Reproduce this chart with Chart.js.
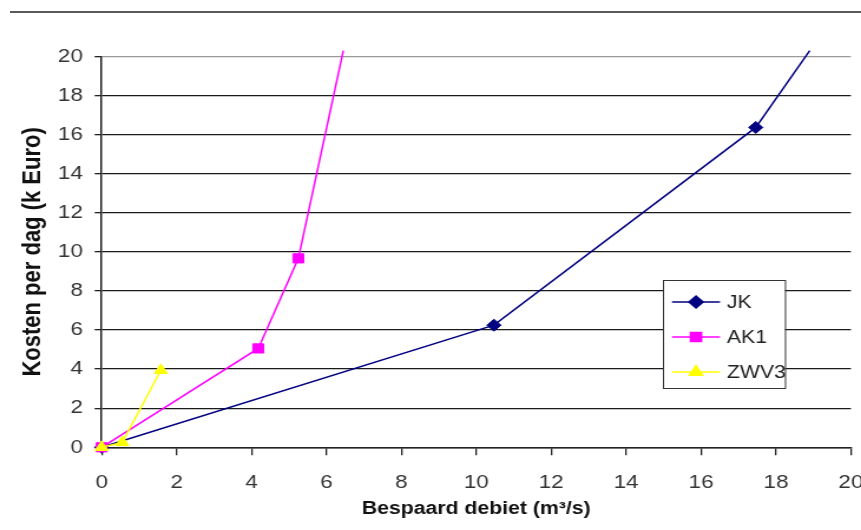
<!DOCTYPE html>
<html>
<head>
<meta charset="utf-8">
<title>Kosten per dag</title>
<script src="https://cdn.jsdelivr.net/npm/chart.js@4.4.0/dist/chart.umd.min.js"></script>
<style>
  html, body { margin: 0; padding: 0; background: #fff; }
  body { width: 861px; height: 530px; overflow: hidden; position: relative; }
  /* page rule above the figure */
  #rule { position: absolute; left: 10px; right: 0; top: 11px; height: 2px; background: #5a5a5a; }
  /* the original figure is stretched horizontally */
  #wrap { position: absolute; left: 0; top: 0; width: 748px; height: 530px; transform: scaleX(1.1795); transform-origin: 0 0; }
</style>
</head>
<body>
<div id="rule"></div>
<div id="wrap"><canvas id="kostenChart" width="748" height="530"></canvas></div>
<script>
// Values (x = bespaard debiet, y = kosten per dag)
const seriesNames = ['JK', 'AK1', 'ZWV3'];
const jkX = [0, 10.47, 17.46, 18.9];
const jkY = [0, 6.25, 16.37, 20.3];
const ak1X = [0, 4.18, 5.25, 6.45];
const ak1Y = [0, 5.06, 9.67, 20.3];
const zwv3X = [0, 0.55, 1.58];
const zwv3Y = [0, 0.25, 3.94];

// tick labels
const xTicks = [0, 2, 4, 6, 8, 10, 12, 14, 16, 18, 20];
const yTicks = [0, 2, 4, 6, 8, 10, 12, 14, 16, 18, 20];

const SX = 1.1795; // horizontal stretch of the wrapper
const fontFamily = '"Liberation Sans", Arial, Helvetica, sans-serif';

function toPoints(xs, ys) {
  return xs.map((x, i) => ({ x: x, y: ys[i] }));
}

// Legend in a box inside the plot area, like the original
const boxLegend = {
  id: 'boxLegend',
  afterDraw(chart) {
    const ctx = chart.ctx;
    const left = 663 / SX, right = 785 / SX, top = 280, bottom = 388;
    ctx.save();
    ctx.fillStyle = '#ffffff';
    ctx.fillRect(left, top, right - left, bottom - top);
    ctx.strokeStyle = '#333333';
    ctx.lineWidth = 1;
    ctx.strokeRect(Math.round(left) + 0.5, top + 0.5, right - left, bottom - top);

    chart.data.datasets.forEach((ds, i) => {
      const y = 302 + i * 35;
      ctx.strokeStyle = ds.borderColor;
      ctx.lineWidth = 1.5;
      ctx.beginPath();
      ctx.moveTo(672 / SX, y);
      ctx.lineTo(720 / SX, y);
      ctx.stroke();
      ctx.fillStyle = ds.backgroundColor;
      ctx.strokeStyle = ds.borderColor;
      Chart.helpers.drawPoint(ctx, {
        pointStyle: ds.pointStyle,
        rotation: 0,
        radius: ds.legendRadius,
        borderWidth: 1
      }, 696 / SX, y);
      ctx.fillStyle = '#222222';
      ctx.font = '18px ' + fontFamily;
      ctx.textAlign = 'left';
      ctx.textBaseline = 'middle';
      ctx.fillText(ds.label, 727 / SX, y + 1);
    });
    ctx.restore();
  }
};

const config = {
  type: 'scatter',
  data: {
    datasets: [{
      label: seriesNames[0],
      data: toPoints(jkX, jkY),
      borderColor: '#000080',
      backgroundColor: '#000080',
      pointStyle: 'rectRot',
      pointRadius: [6, 6, 6, 0],
      legendRadius: 6,
      order: 2
    }, {
      label: seriesNames[1],
      data: toPoints(ak1X, ak1Y),
      borderColor: '#ff00ff',
      backgroundColor: '#ff00ff',
      pointStyle: 'rect',
      pointRadius: [6.5, 6.5, 6.5, 0],
      legendRadius: 6.5,
      order: 1
    }, {
      label: seriesNames[2],
      data: toPoints(zwv3X, zwv3Y),
      borderColor: '#ffff00',
      backgroundColor: '#ffff00',
      pointStyle: 'triangle',
      pointRadius: 6.5,
      legendRadius: 6.5,
      order: 0
    }]
  },
  options: {
    responsive: false,
    animation: false,
    devicePixelRatio: 1,
    showLine: true,
    clip: 12,
    layout: { padding: { top: 56.5, right: 0, bottom: 0, left: 0 } },
    elements: {
      line: { borderWidth: 1.5, tension: 0 },
      point: { borderWidth: 1, hoverRadius: 6 }
    },
    scales: {
      x: {
        type: 'linear',
        min: 0,
        max: 20,
        afterFit: s => { s.height = 82.7; },
        afterBuildTicks: s => { s.ticks = xTicks.map(v => ({ value: v })); },
        grid: { drawOnChartArea: false, drawTicks: true, tickLength: 8, tickColor: '#222222', lineWidth: 1.3 },
        border: { display: true, color: '#222222', width: 1.5 },
        ticks: { padding: 16, color: '#333333', font: { family: fontFamily, size: 19 }, maxRotation: 0 },
        title: {
          display: true,
          text: 'Bespaard debiet (m³/s)',
          color: '#111111',
          font: { family: fontFamily, size: 18, weight: 'bold' },
          padding: { top: 0, bottom: 10 }
        }
      },
      y: {
        min: 0,
        max: 20,
        afterFit: s => { s.width = 86.2; },
        afterBuildTicks: s => { s.ticks = yTicks.map(v => ({ value: v })); },
        grid: {
          color: c => (c.tick && c.tick.value === 20) ? '#9a9a9a' : '#1a1a1a',
          lineWidth: 1.3,
          tickLength: 6,
          tickColor: '#222222'
        },
        border: { display: true, color: '#222222', width: 1.5 },
        ticks: { padding: 10, color: '#333333', font: { family: fontFamily, size: 19 } },
        title: {
          display: true,
          text: 'Kosten per dag (k Euro)',
          color: '#111111',
          font: { family: fontFamily, size: 22, weight: 'bold' },
          padding: { top: 15, bottom: 0 }
        }
      }
    },
    plugins: {
      legend: { display: false },
      tooltip: { enabled: false }
    }
  },
  plugins: [boxLegend]
};

// Initialize the chart
const kostenChart = new Chart(document.getElementById('kostenChart'), config);
</script>
</body>
</html>
